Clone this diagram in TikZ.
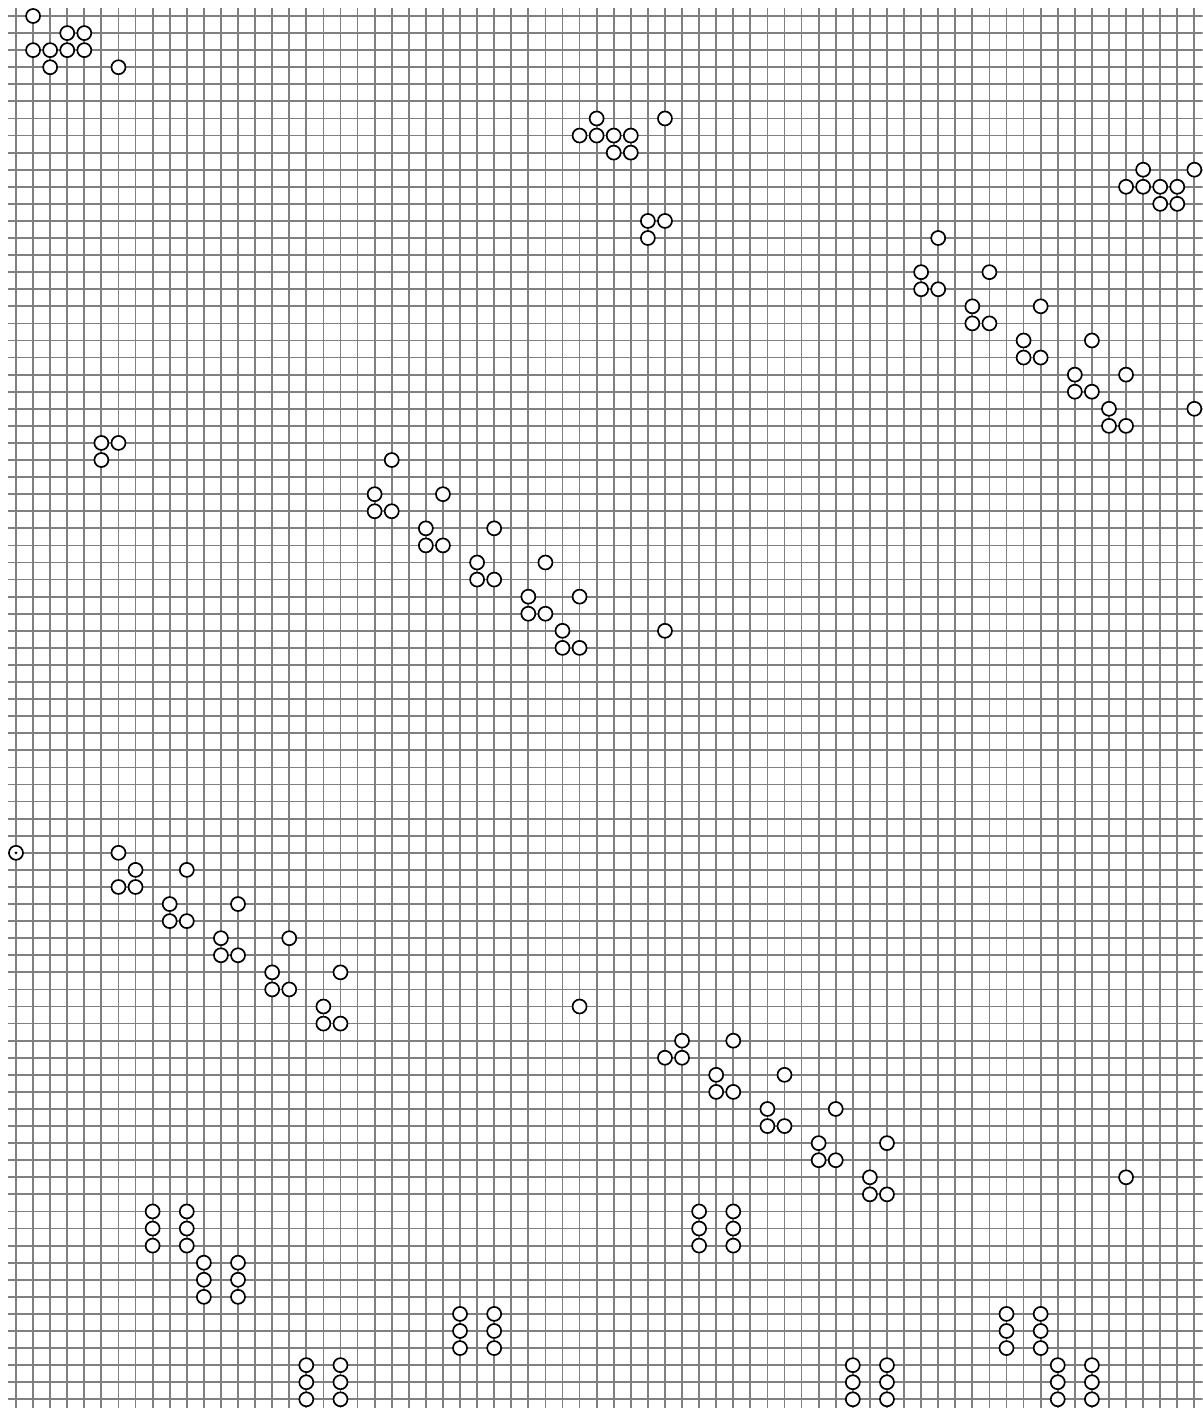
\documentclass[tikz,border=0pt]{standalone}
\begin{document}
\begin{tikzpicture}[x=1cm,y=-1cm,
  cell/.style={circle,draw=black,line width=2.8pt,fill=white,minimum size=0.82cm,inner sep=0pt},
  origin/.style={cell},
  gridline/.style={draw=black!50,line width=3.0pt}]
\useasboundingbox (-0.937,-0.937) rectangle (69.486,81.51);
\clip (-0.937,-0.937) rectangle (69.486,81.51);
\foreach \i in {0,...,70} \draw[gridline] (\i,-0.47) -- (\i,82);
\foreach \j in {0,...,82} \draw[gridline] (-0.47,\j) -- (70,\j);
\foreach \p/\q in {
 1/0,1/2,2/2,3/1,4/1,3/2,4/2,2/3,6/3,
 34/6,33/7,34/7,35/7,36/7,35/8,36/8,38/6,
 37/12,38/12,37/13,
 66/9,65/10,66/10,67/10,68/10,67/11,68/11,69/9,
 54/13,53/15,53/16,54/16,57/15,56/17,56/18,57/18,60/17,59/19,59/20,60/20,63/19,62/21,62/22,63/22,65/21,64/23,64/24,65/24,69/23,
 5/25,6/25,5/26,
 22/26,21/28,21/29,22/29,25/28,24/30,24/31,25/31,28/30,27/32,27/33,28/33,31/32,30/34,30/35,31/35,33/34,32/36,32/37,33/37,38/36,
 6/49,7/50,6/51,7/51,10/50,9/52,9/53,10/53,13/52,12/54,12/55,13/55,16/54,15/56,15/57,16/57,19/56,18/58,18/59,19/59,33/58,
 39/60,38/61,39/61,42/60,41/62,41/63,42/63,45/62,44/64,44/65,45/65,48/64,47/66,47/67,48/67,51/66,50/68,50/69,51/69,65/68,
 8/70,8/71,8/72,10/70,10/71,10/72,
 11/73,11/74,11/75,13/73,13/74,13/75,
 17/79,17/80,17/81,19/79,19/80,19/81,
 26/76,26/77,26/78,28/76,28/77,28/78,
 40/70,40/71,40/72,42/70,42/71,42/72,
 49/79,49/80,49/81,51/79,51/80,51/81,
 58/76,58/77,58/78,60/76,60/77,60/78,
 61/79,61/80,61/81,63/79,63/80,63/81}
 \node[cell] (c-\p-\q) at (\p,\q) {};
\node[origin] (o) at (0,49) {};
\fill (o.center) circle (0.09);
\end{tikzpicture}
\end{document}
